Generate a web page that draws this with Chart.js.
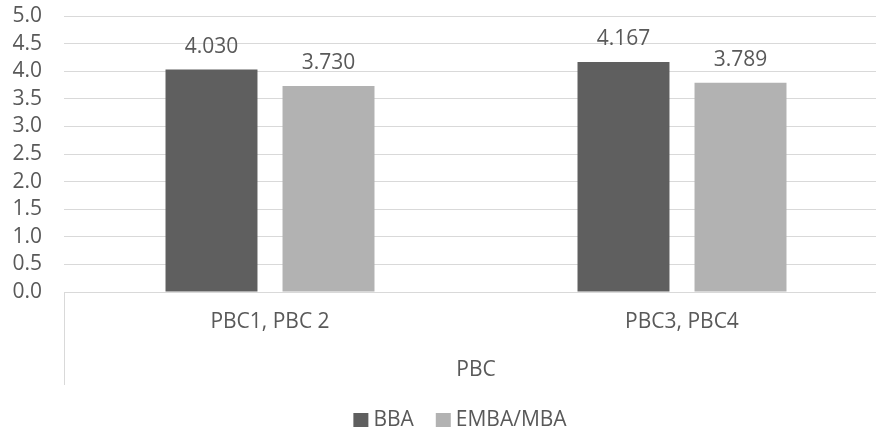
<!DOCTYPE html>
<html>
<head>
<meta charset="utf-8">
<script src="https://cdn.jsdelivr.net/npm/chart.js@4"></script>
<style>
  html, body { margin: 0; padding: 0; background: #fff; overflow: hidden; }
  body { width: 876px; height: 433px; }
  #wrap { width: 920px; height: 433px; position: relative; }
</style>
</head>
<body>
<div id="wrap"><canvas id="c"></canvas></div>
<script>
// Categories, group label and series
const categories = ['PBC1, PBC 2', 'PBC3, PBC4'];
const groupLabel = 'PBC';
const bbaValues = [4.030, 4.167];
const mbaValues = [3.730, 3.789];
const seriesNames = ['BBA', 'EMBA/MBA'];
const seriesColors = ['#5f5f5f', '#b2b2b2'];
const yTicks = [0, 0.5, 1, 1.5, 2, 2.5, 3, 3.5, 4, 4.5, 5];

const TEXT = '#595959';
const FONT_FAMILY = '"Open Sans", sans-serif';
const FONT = { family: FONT_FAMILY, size: 21 };

// Value labels above each bar
const valueLabels = {
  id: 'valueLabels',
  afterDatasetsDraw(chart) {
    const ctx = chart.ctx;
    ctx.save();
    ctx.font = '21px ' + FONT_FAMILY;
    ctx.fillStyle = TEXT;
    ctx.textAlign = 'center';
    ctx.textBaseline = 'alphabetic';
    chart.data.datasets.forEach((ds, i) => {
      chart.getDatasetMeta(i).data.forEach((bar, j) => {
        ctx.fillText(ds.data[j].toFixed(3), bar.x, bar.y - 17);
      });
    });
    ctx.restore();
  }
};

// Separator lines of the multi-level category axis
const axisSeparator = {
  id: 'axisSeparator',
  afterDraw(chart) {
    const { ctx, chartArea } = chart;
    ctx.save();
    ctx.strokeStyle = '#d9d9d9';
    ctx.lineWidth = 1;
    ctx.beginPath();
    [chartArea.left, chartArea.right].forEach(x => {
      ctx.moveTo(Math.round(x) + 0.5, chartArea.bottom);
      ctx.lineTo(Math.round(x) + 0.5, chartArea.bottom + 93);
    });
    ctx.stroke();
    ctx.restore();
  }
};

// Legend row centred under the chart
const bottomLegend = {
  id: 'bottomLegend',
  afterDraw(chart) {
    const ctx = chart.ctx;
    ctx.save();
    ctx.font = '21px ' + FONT_FAMILY;
    const box = 15, boxGap = 5, itemGap = 22, y = 420;
    const widths = seriesNames.map(n => ctx.measureText(n).width);
    let total = 0;
    widths.forEach((w, i) => { total += box + boxGap + w + (i ? itemGap : 0); });
    let x = chart.width / 2 - total / 2;
    ctx.textBaseline = 'middle';
    ctx.textAlign = 'left';
    seriesNames.forEach((name, i) => {
      ctx.fillStyle = chart.data.datasets[i].backgroundColor;
      ctx.fillRect(x, y - 7, box, 14);
      x += box + boxGap;
      ctx.fillStyle = TEXT;
      ctx.fillText(name, x, y);
      x += widths[i] + itemGap;
    });
    ctx.restore();
  }
};

new Chart(document.getElementById('c'), {
  type: 'bar',
  data: {
    labels: categories,
    datasets: [
      { label: seriesNames[0], data: bbaValues, backgroundColor: seriesColors[0],
        categoryPercentage: 0.568, barPercentage: 0.786 },
      { label: seriesNames[1], data: mbaValues, backgroundColor: seriesColors[1],
        categoryPercentage: 0.568, barPercentage: 0.786 }
    ]
  },
  options: {
    responsive: true,
    maintainAspectRatio: false,
    animation: false,
    layout: { padding: { top: 16, right: 32, left: 0, bottom: 41 } },
    plugins: {
      tooltip: { enabled: false },
      legend: { display: false }
    },
    scales: {
      y: {
        min: 0, max: 5,
        afterBuildTicks(scale) { scale.ticks = yTicks.map(v => ({ value: v })); },
        afterFit(scale) {
          scale.width = 64;
          scale.paddingTop = 0;
          scale.paddingBottom = 0;
        },
        ticks: {
          color: TEXT, font: FONT, padding: 22, autoSkip: false,
          callback: v => Number(v).toFixed(1)
        },
        grid: { color: '#d9d9d9', lineWidth: 1, drawTicks: false },
        border: { display: false }
      },
      x: {
        afterFit(scale) { scale.height = 100; },
        grid: { display: false, drawTicks: false },
        border: { display: true, color: '#d9d9d9' },
        ticks: { color: TEXT, font: FONT, padding: 17 },
        title: {
          display: true, text: groupLabel, color: TEXT, font: FONT,
          padding: { top: 8, bottom: 9 }
        }
      }
    }
  },
  plugins: [valueLabels, axisSeparator, bottomLegend]
});
</script>
</body>
</html>
